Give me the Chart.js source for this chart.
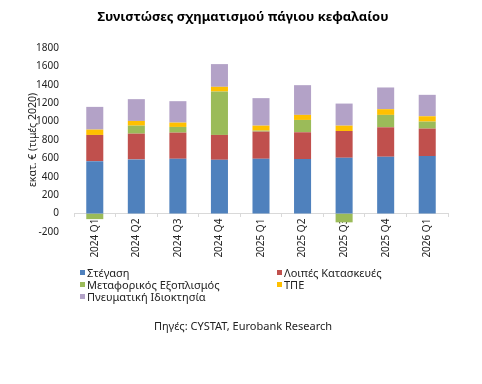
<!DOCTYPE html>
<html>
<head>
<meta charset="utf-8">
<script src="https://cdn.jsdelivr.net/npm/chart.js@4"></script>
<style>
  body { margin: 0; background: #fff; font-family: "Noto Sans", sans-serif; }
  #wrap { position: relative; width: 482px; height: 384px; }
  #title { position: absolute; top: 7px; left: 0; width: 486px; text-align: center; font-weight: bold; font-size: 13px; color: #000; }
  #legend { position: absolute; top: 267px; left: 80px; width: 400px; font-size: 11px; color: #222; }
  .item { position: absolute; white-space: nowrap; line-height: 12px; }
  .box { display: inline-block; width: 5px; height: 5px; margin-right: 2px; vertical-align: 2px; }
  #source { position: absolute; top: 318px; left: 0; width: 486px; text-align: center; font-size: 11px; color: #222; }
</style>
</head>
<body>
<div id="wrap">
  <div id="title">Συνιστώσες σχηματισμού πάγιου κεφαλαίου</div>
  <canvas id="chart" width="482" height="384"></canvas>
  <div id="legend"></div>
  <div id="source">Πηγές: CYSTAT, Eurobank Research</div>
</div>
<script>
// κατηγορίες (τρίμηνα)
var quarters = ["2024 Q1", "2024 Q2", "2024 Q3", "2024 Q4", "2025 Q1", "2025 Q2", "2025 Q3", "2025 Q4", "2026 Q1"];

// σειρές (εκατ. €, τιμές 2020)
var housing = [570, 589, 596, 585, 596, 593, 607, 618, 625];
var otherConstruction = [285, 280, 284, 270, 295, 291, 291, 320, 299];
var transport = [-60, 87, 62, 472, 11, 134, -95, 135, 76];
var ict = [58, 51, 47, 51, 54, 55, 58, 62, 58];
var intellectual = [247, 237, 233, 247, 299, 323, 240, 236, 233];

var seriesNames = ["Στέγαση", "Λοιπές Κατασκευές", "Μεταφορικός Εξοπλισμός", "ΤΠΕ", "Πνευματική Ιδιοκτησία"];
var seriesColors = ["#4F81BD", "#C0504D", "#9BBB59", "#FFC000", "#B3A2C7"];

var yTicks = { min: -200, max: 1800, step: 200 };

var allData = [housing, otherConstruction, transport, ict, intellectual];

var datasets = allData.map(function (d, i) {
  return {
    label: seriesNames[i],
    data: d,
    backgroundColor: seriesColors[i],
    categoryPercentage: 1,
    barPercentage: 0.41,
  };
});

var ctx = document.getElementById("chart").getContext("2d");
new Chart(ctx, {
  type: "bar",
  data: { labels: quarters, datasets: datasets },
  options: {
    responsive: false,
    animation: false,
    layout: { padding: { top: 48, right: 34, bottom: 152, left: 0 } },
    plugins: {
      legend: { display: false },
      tooltip: { enabled: false },
    },
    scales: {
      x: {
        stacked: true,
        position: { y: 0 },
        grid: { display: true, drawOnChartArea: false, drawTicks: true, tickLength: 3, color: "#d9d9d9", offset: true },
        border: { display: true, color: "#d9d9d9" },
        ticks: {
          minRotation: 90,
          maxRotation: 90,
          padding: 2,
          color: "#222",
          font: { family: "Noto Sans", size: 10 },
        },
      },
      y: {
        stacked: true,
        min: yTicks.min,
        max: yTicks.max,
        afterFit: function (scale) { scale.width = 74; },
        grid: { display: false },
        border: { display: false },
        ticks: {
          stepSize: yTicks.step,
          padding: 7,
          color: "#222",
          font: { family: "Noto Sans", size: 10 },
          callback: function (v) { return String(v); },
        },
        title: {
          display: true,
          text: "εκατ. € (τιμές 2020)",
          color: "#222",
          font: { family: "Noto Sans", size: 10.5 },
          padding: { top: 27, bottom: 0 },
        },
      },
    },
  },
});

// υπόμνημα σε δύο στήλες
var legend = document.getElementById("legend");
seriesNames.forEach(function (name, i) {
  var el = document.createElement("div");
  el.className = "item";
  el.style.left = (i % 2 === 0 ? 0 : 197) + "px";
  el.style.top = Math.floor(i / 2) * 12 + "px";
  el.innerHTML = '<span class="box" style="background:' + seriesColors[i] + '"></span>' + name;
  legend.appendChild(el);
});
</script>
</body>
</html>
